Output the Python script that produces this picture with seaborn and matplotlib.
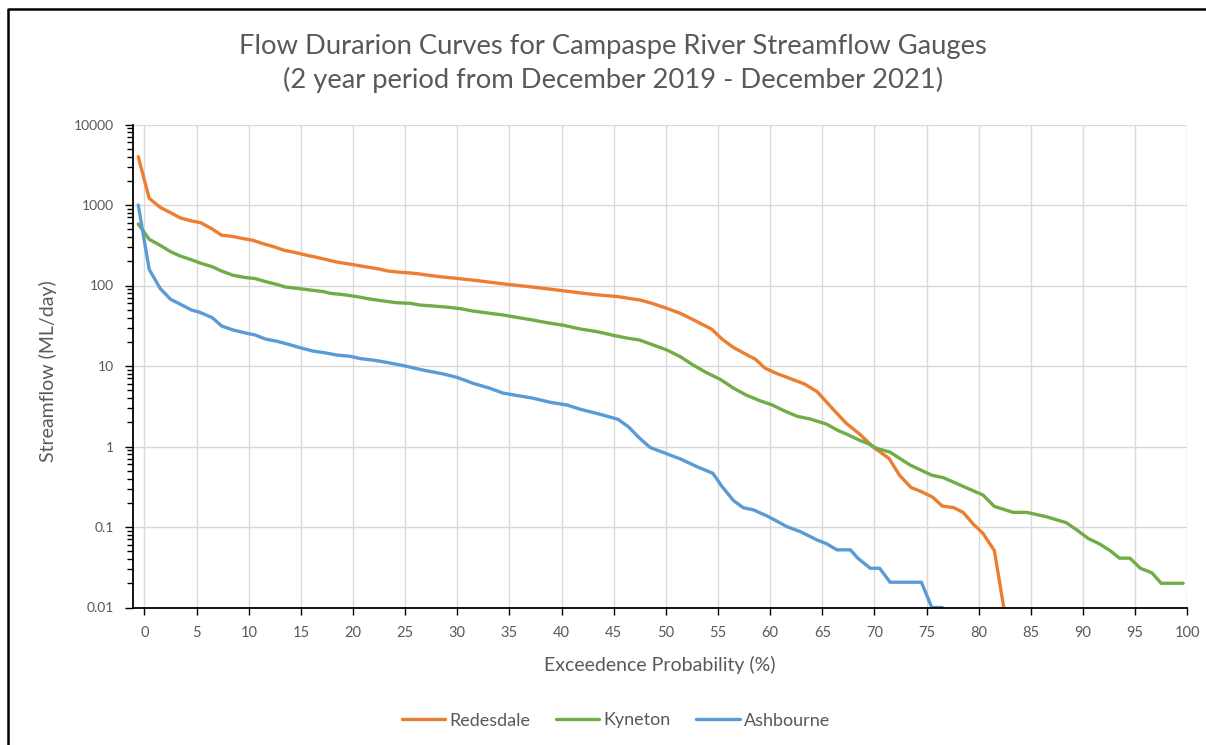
import numpy as np
import pandas as pd
import matplotlib
matplotlib.use("Agg")
import matplotlib.pyplot as plt
import matplotlib.ticker as mticker
from matplotlib.lines import Line2D
import seaborn as sns

# ---- data ----
red_x = [-0.6, 0.45, 1.5, 2.5, 3.4, 4.4, 5.4, 6.5, 7.4, 8.4, 9.3, 10.4, 11.4, 12.4, 13.4,
         14.5, 15.6, 16.5, 17.5, 18.4, 19.4, 20.4, 21.3, 22.3, 23.4, 24.5, 25.5, 26.4, 27.4,
         28.5, 29.6, 30.6, 31.9, 33.1, 34.1, 35.5, 37.1, 38.9, 40.5, 42.1, 43.7, 45.3, 47.5,
         48.5, 50.1, 51.4, 53.0, 54.4, 55.4, 56.5, 57.8, 58.6, 59.5, 60.6, 61.9, 63.3, 64.5,
         66.1, 67.3, 68.6, 69.9, 71.4, 72.4, 73.5, 74.5, 75.6, 76.5, 77.6, 78.5, 79.5, 80.4,
         81.5, 82.4]
red_y = [3980, 1210, 936, 802, 695, 638, 602, 503, 421, 408, 386, 364, 330, 303, 274,
         256, 237, 224, 209, 196, 187, 178, 170, 162, 151, 146, 143, 139, 133,
         128, 124, 120, 115, 110, 106, 101, 96, 90, 85, 80, 76, 73, 66,
         61, 52, 45, 35.5, 28.6, 21.5, 16.9, 13.7, 12.1, 9.4, 8.1, 7.0, 5.97, 4.8,
         2.84, 1.94, 1.42, 0.98, 0.71, 0.44, 0.31, 0.275, 0.234, 0.182, 0.174, 0.152, 0.108, 0.0835,
         0.0508, 0.01]

kyn_x = [-0.6, 0.45, 1.5, 2.5, 3.4, 4.4, 5.4, 6.5, 7.4, 8.5, 9.6, 10.6, 11.7, 12.7, 13.5,
         14.6, 15.9, 17.2, 17.8, 19.1, 20.4, 21.6, 22.9, 24.2, 25.5, 26.4, 27.7, 29.3, 30.3,
         31.5, 33.1, 34.4, 35.7, 37.2, 38.6, 40.2, 41.8, 43.4, 45.0, 46.2, 47.5, 48.5, 50.1,
         51.4, 52.6, 53.9, 55.2, 56.5, 57.7, 59.0, 60.2, 61.3, 62.6, 63.8, 65.4, 66.5, 67.3,
         68.6, 69.3, 70.2, 71.5, 73.4, 75.5, 76.6, 78.5, 80.4, 81.5, 83.3, 84.6, 86.5, 88.4,
         89.4, 90.5, 91.6, 92.6, 93.5, 94.5, 95.5, 96.6, 97.5, 99.6]
kyn_y = [581, 375, 316, 263, 233, 211, 189, 171, 151, 134, 126, 122, 111, 103, 95.8,
         92.2, 87.9, 83.8, 80, 76.9, 72.6, 68, 64.2, 61.1, 60, 57.2, 55.6, 53.5, 51.5,
         48.2, 45.2, 43, 40.2, 37.3, 34.5, 32, 28.8, 26.7, 24, 22.3, 21, 18.8, 15.8,
         13, 10.3, 8.26, 6.84, 5.29, 4.36, 3.71, 3.28, 2.79, 2.37, 2.2, 1.9, 1.58, 1.43,
         1.19, 1.1, 0.95, 0.85, 0.59, 0.44, 0.41, 0.32, 0.25, 0.18, 0.152, 0.152, 0.134, 0.113,
         0.092, 0.072, 0.0615, 0.0508, 0.041, 0.041, 0.0307, 0.027, 0.02, 0.02]

ash_x = [-0.6, 0.45, 1.5, 2.5, 3.4, 4.5, 5.3, 6.5, 7.4, 8.5, 9.8, 10.6, 11.6, 12.7, 13.8,
         14.9, 16.2, 17.3, 18.4, 19.7, 20.8, 22.0, 23.2, 25.0, 26.7, 28.7, 30.0, 31.5, 33.1,
         34.4, 35.3, 37.3, 38.9, 40.5, 41.8, 43.7, 45.4, 46.4, 47.5, 48.5, 50.1, 51.4, 53.0,
         54.5, 55.4, 56.5, 57.4, 58.4, 59.7, 60.6, 61.6, 62.9, 64.5, 65.4, 66.4, 67.7, 68.4,
         69.6, 70.5, 71.5, 74.5, 75.5, 76.5]
ash_y = [1000, 159, 92, 67.4, 58.9, 49.6, 46.5, 39.8, 31.4, 28, 25.5, 24.3, 21.6, 20.3, 18.6,
         16.9, 15.3, 14.6, 13.7, 13.2, 12.3, 11.8, 11.1, 10, 8.9, 7.94, 7.2, 6.1, 5.3,
         4.6, 4.4, 3.97, 3.54, 3.28, 2.9, 2.51, 2.18, 1.76, 1.26, 0.97, 0.81, 0.7, 0.56,
         0.465, 0.316, 0.212, 0.174, 0.163, 0.137, 0.119, 0.101, 0.0875, 0.069, 0.062, 0.052, 0.052, 0.041,
         0.0307, 0.0307, 0.0206, 0.0206, 0.01, 0.01]

series_names = ["Redesdale", "Kyneton", "Ashbourne"]
series_colors = ["#ED7D31", "#70AD47", "#5B9BD5"]
x_ticks = list(range(0, 101, 5))
y_ticks = [0.01, 0.1, 1, 10, 100, 1000, 10000]
y_tick_labels = ["0.01", "0.1", "1", "10", "100", "1000", "10000"]

title = "Flow Durarion Curves for Campaspe River Streamflow Gauges\n(2 year period from December 2019 - December 2021)"

# ---- build long-form table ----
df = pd.concat([
    pd.DataFrame({"x": red_x, "y": red_y, "gauge": series_names[0]}),
    pd.DataFrame({"x": kyn_x, "y": kyn_y, "gauge": series_names[1]}),
    pd.DataFrame({"x": ash_x, "y": ash_y, "gauge": series_names[2]}),
], ignore_index=True)

sns.set_theme(style="white")
plt.rcParams["font.family"] = ["Lato", "DejaVu Sans"]
text_col = "#595959"

fig = plt.figure(figsize=(12.06, 7.45), dpi=100)
ax = fig.add_axes([132.5 / 1206, 1 - 607.5 / 745, (1187.3 - 132.5) / 1206, (607.5 - 124.5) / 745])

sns.lineplot(data=df, x="x", y="y", hue="gauge", palette=dict(zip(series_names, series_colors)),
             estimator=None, sort=False, linewidth=2.4, ax=ax, legend=False, zorder=3)

ax.set_yscale("log")
ax.set_ylim(0.01, 10000)
ax.set_xlim(-1.15, 100)
ax.set_xticks(x_ticks)
ax.set_xticklabels([str(t) for t in x_ticks])
ax.set_yticks(y_ticks)
ax.set_yticklabels(y_tick_labels)
ax.yaxis.set_minor_locator(mticker.LogLocator(base=10, subs=np.arange(2, 10), numticks=20))
ax.yaxis.set_minor_formatter(mticker.NullFormatter())

ax.grid(True, which="major", color="#D9D9D9", linewidth=1.0, zorder=0)
ax.set_axisbelow(True)
for s in ["top", "right"]:
    ax.spines[s].set_visible(False)
for s in ["left", "bottom"]:
    ax.spines[s].set_color("#000000")
    ax.spines[s].set_linewidth(1.3)
    ax.spines[s].set_zorder(4)

ax.tick_params(axis="x", which="major", direction="out", length=5, width=1, color="#000000",
               labelsize=10.5, labelcolor=text_col, pad=8, bottom=True)
ax.tick_params(axis="y", which="major", direction="out", length=6, width=1, color="#000000",
               labelsize=10, labelcolor=text_col, pad=7, left=True)
ax.tick_params(axis="y", which="minor", direction="out", length=4, width=1, color="#000000", left=True)

ax.set_xlabel("Exceedence Probability (%)", fontsize=14, color=text_col, labelpad=12)
ax.set_ylabel("Streamflow (ML/day)", fontsize=14, color=text_col)
ax.yaxis.set_label_coords(-0.0716, 0.49)

fig.text(613 / 1206, 1 - 63.5 / 745, title, ha="center", va="center", fontsize=19.7,
         color=text_col, linespacing=1.35)

handles = [Line2D([0], [0], color=c, linewidth=2.4) for c in series_colors]
fig.legend(handles, series_names, loc="center", bbox_to_anchor=(616 / 1206, 1 - 720.5 / 745),
           ncol=3, frameon=False, fontsize=13, labelcolor=text_col, handlelength=2.4,
           handletextpad=0.25, columnspacing=1.4)

# figure border (chart-area outline)
fig.add_artist(Line2D([7.5 / 1206, 7.5 / 1206, 1.0], [0.0, 1 - 8.5 / 745, 1 - 8.5 / 745],
                      transform=fig.transFigure, color="#000000", linewidth=1.8))

fig.savefig("out.png", dpi=100)
